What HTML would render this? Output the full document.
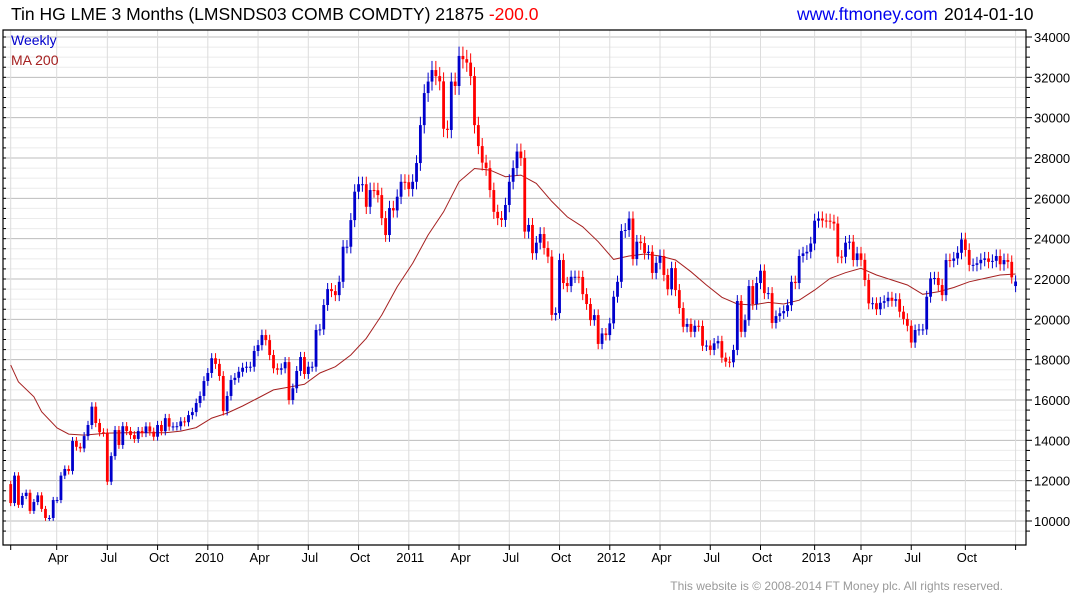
<!DOCTYPE html>
<html><head><meta charset="utf-8"><style>
body{margin:0;background:#fff;width:1075px;height:600px;overflow:hidden;font-family:"Liberation Sans",sans-serif}
svg{position:absolute;left:0;top:0}
</style></head><body>
<svg id="chart" width="1075" height="600" xmlns="http://www.w3.org/2000/svg">
<text x="11" y="20" font-size="17.5" font-family="Liberation Sans, sans-serif" fill="#000">Tin HG LME 3 Months (LMSNDS03 COMB COMDTY) 21875 <tspan fill="#ff0000">-200.0</tspan></text>
<text x="797" y="20" font-size="17.5" font-family="Liberation Sans, sans-serif" fill="#0000ee">www.ftmoney.com</text>
<text x="944" y="20" font-size="17.5" font-family="Liberation Sans, sans-serif" fill="#000">2014-01-10</text>
<text x="1003" y="590" text-anchor="end" font-size="12" font-family="Liberation Sans, sans-serif" fill="#999">This website is © 2008-2014 FT Money plc. All rights reserved.</text>
<g id="grid"></g>
<g id="marks"></g>
<g id="axes"></g>
<text x="11" y="45" font-size="14" font-family="Liberation Sans, sans-serif" fill="#0000cc">Weekly</text>
<text x="11" y="65" font-size="14" font-family="Liberation Sans, sans-serif" fill="#a52020">MA 200</text>
</svg>
<script>
const closes=[10890,12250,10800,11240,11400,10500,10940,11270,10600,10150,10150,11040,11040,12250,12580,12480,13970,13680,13600,14210,
14760,15670,14860,14400,14380,11950,13220,14510,13770,14700,14460,14260,14070,14460,14360,14690,14430,14180,14760,14450,
15100,14680,14690,14700,14940,14900,15250,15400,15850,16200,16940,17340,18070,17790,17190,15450,16200,16990,17100,17400,
17600,17650,17650,18430,18720,19220,18970,18230,17570,17500,17570,17880,16000,16580,17440,18130,17290,17650,17650,19470,
19500,20710,21500,21400,21200,21860,23600,23600,24920,26330,26700,26700,25580,26410,26400,26160,25020,24180,25520,25400,
26080,26820,26800,26460,26820,27750,29630,31220,31790,32360,32060,31800,29450,29390,31790,31570,33060,32900,32730,32060,
29630,28590,27770,27500,26410,25330,25020,24930,25670,26820,27500,28320,28000,24350,24680,23280,23800,24230,23540,23110,
20220,20310,22940,21800,21650,22110,22110,22100,21250,20760,19960,20210,18780,19300,19220,19800,21120,21860,24380,24430,
25000,22990,23850,23780,23290,23350,22300,22800,23140,22200,21490,22540,21450,20560,19630,19770,19380,19680,19670,18690,
18700,18480,18810,18920,18100,17900,17870,18480,20910,19380,19960,21650,20760,21800,22410,21300,21300,19820,20160,20300,
20410,20700,21860,21800,23140,23270,23350,23760,24890,25000,24900,24890,24840,24750,23110,23100,23800,23850,22940,23270,
22950,21950,20790,20800,20500,20820,20900,21070,20920,21000,20380,20020,19680,18850,19470,19500,19500,21120,22030,22050,
21700,21200,22940,22900,23020,23300,23960,23440,22700,22700,22780,22950,23020,22850,22900,23140,22730,22940,22850,22080,21875];
const firstOpen=11830;
const lastOpen=21650;
const maWeeks=[0,2,6,8,12,15,19,25,30,40,44,48,52,56,60,64,68,72,76,80,84,88,92,96,100,104,108,112,116,120,124,128,132,136,140,144,148,152,156,160,164,168,172,176,180,184,188,192,196,200,204,208,212,216,220,224,228,232,236,240,244,248,252,256,260];
const maValues=[17730,16900,16160,15420,14610,14310,14260,14360,14380,14380,14460,14630,15100,15350,15700,16100,16500,16640,16780,17340,17650,18230,19060,20210,21620,22780,24180,25330,26820,27480,27400,27070,27150,26740,25850,25080,24590,23850,22970,23140,23240,23140,22940,22360,21700,21090,20760,20710,20840,20760,20950,21450,22030,22310,22530,22200,21950,21700,21240,21370,21580,21860,22030,22200,22250];
const yTicks=[10000,12000,14000,16000,18000,20000,22000,24000,26000,28000,30000,32000,34000];
const xTickWeeks=[0,11.9,25,38,51,64,77,90,103,116,129,142,155,168,181,194,208,220,233,247,260];
const xTickLabels=["","Apr","Jul","Oct","2010","Apr","Jul","Oct","2011","Apr","Jul","Oct","2012","Apr","Jul","Oct","2013","Apr","Jul","Oct",""];

const NS="http://www.w3.org/2000/svg";
const L=3,R=1026,T=30,B=545;
function xs(i){return 10.7+i*3.865;}
function ys(v){return 521-(v-10000)*0.020167;}
function mk(tag,attrs,parent){const e=document.createElementNS(NS,tag);for(const k in attrs)e.setAttribute(k,attrs[k]);parent.appendChild(e);return e;}
const grid=document.getElementById('grid'),marks=document.getElementById('marks'),axes=document.getElementById('axes');
for(let v=9500;v<=34500;v+=500){const y=ys(v);if(y<T||y>B)continue;const major=v%2000===0;
 const g=mk('line',{x1:L,x2:R,y1:y,y2:y,stroke:major?'#bdbdbd':'#ebebeb','stroke-width':1},grid);
 
 
 const t=mk('line',{x1:R,x2:R+(major?6:4),y1:y,y2:y,stroke:'#000'},axes);
 
 
 const lt=mk('line',{x1:L,x2:L+3,y1:y,y2:y,stroke:'#000'},axes);
 
 }
yTicks.forEach(v=>{const t=mk('text',{x:R+8,y:ys(v)+5,'font-size':13,'font-family':'Liberation Sans, sans-serif',fill:'#000'},axes);t.textContent=v;
 
 });
xTickWeeks.forEach((w,k)=>{const x=xs(w);
 const g=mk('line',{x1:x,x2:x,y1:T,y2:B,stroke:'#dcdcdc'},grid);
 
 
 const t=mk('line',{x1:x,x2:x,y1:B,y2:B+5,stroke:'#000'},axes);
 
 
 if(xTickLabels[k]){const tx=mk('text',{x:x+1.5,y:562,'text-anchor':'middle','font-size':13,'font-family':'Liberation Sans, sans-serif',fill:'#000'},axes);tx.textContent=xTickLabels[k];
 
 }});
const fr=mk('path',{d:`M${L},${T}H${R}V${B}H${L}Z`,fill:'none',stroke:'#000','stroke-width':1.2},axes);


const pts=maWeeks.map((w,k)=>xs(w).toFixed(1)+','+ys(maValues[k]).toFixed(1)).join(' ');
const ma=mk('polyline',{points:pts,fill:'none',stroke:'#a52020','stroke-width':1},marks);


closes.forEach((c,i)=>{
 let o=i===0?firstOpen:(i===closes.length-1?lastOpen:closes[i-1]);
 const up=c>=o,col=up?'#0000cc':'#ff0000';
 const hi=Math.max(o,c)*1.014,lo=Math.min(o,c)*0.986,x=xs(i);
 const w=mk('line',{x1:x,x2:x,y1:ys(hi),y2:ys(lo),stroke:col,'stroke-width':1},marks);
 
 
 const yt=ys(Math.max(o,c)),yb=ys(Math.min(o,c));
 const b=mk('rect',{x:x-1.4,y:yt,width:2.8,height:Math.max(1,yb-yt),fill:col},marks);
 
 
});
</script>
</body></html>
